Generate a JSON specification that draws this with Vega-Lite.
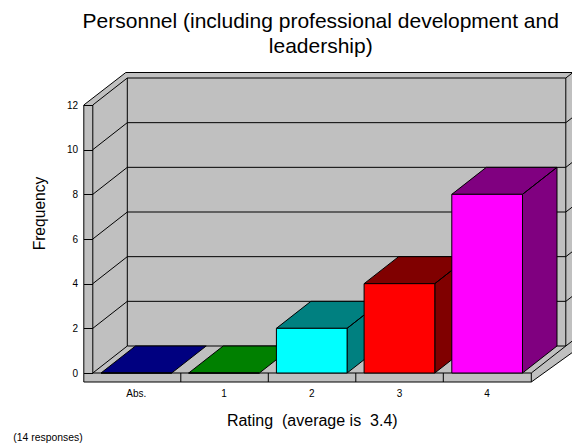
{
"$schema":"https://vega.github.io/schema/vega-lite/v6.json",
"width":438.5,"height":268,
"autosize":{"type":"none"},
"padding":{"left":92.5,"top":105,"right":41,"bottom":74},
"background":"white",
"config":{"view":{"stroke":null},"font":"Liberation Sans"},
"title":{"text":["Personnel (including professional development and","leadership)"],"font":"Liberation Sans","fontSize":21,"fontWeight":"normal","color":"black","anchor":"middle","dx":9,"offset":14,"lineHeight":24.5},
"datasets":{
"ratings":[
{"rating":"Abs.","frequency":0},
{"rating":"1","frequency":0},
{"rating":"2","frequency":2},
{"rating":"3","frequency":4},
{"rating":"4","frequency":8}],
"ticks":[{"tick":0},{"tick":2},{"tick":4},{"tick":6},{"tick":8},{"tick":10},{"tick":12}]
},
"layer":[
{"data":{"values":[{"rating":"Abs.","frequency":0}]},
 "mark":{"type":"point","filled":true,"size":4,"opacity":1,"fill":"#c0c0c0","stroke":"black","strokeWidth":1,
 "shape":"M-17.2 9 V-268 L24.8 -300.5 H472 V-21 L430.3 9 Z"},
 "encoding":{"x":{"field":"rating","type":"nominal","bandPosition":0,"sort":null,"scale":{"domain":["Abs.","1","2","3","4"],"paddingInner":0.194,"paddingOuter":0.097},
   "axis":{"title":"Rating \u00a0(average is \u00a03.4)","titleFont":"Liberation Sans","titleFontSize":16,"titleFontWeight":"normal","titleColor":"black","titlePadding":14,"labelFontSize":10,"labelColor":"black","labelAngle":0,"labelPadding":15,"ticks":false,"domain":false,"zindex":1}},
  "y":{"field":"frequency","type":"quantitative","scale":{"domain":[0,12],"nice":false},
   "axis":{"title":"Frequency","titleFont":"Liberation Sans","titleFontSize":15.6,"titleFontWeight":"normal","titleColor":"black","titlePadding":19,"titleY":108,"values":[0,2,4,6,8,10,12],"labelFontSize":10,"labelColor":"black","labelPadding":6,"tickSize":9,"tickColor":"black","domain":false,"grid":false,"zindex":1}}}},
{"data":{"values":[{"rating":"Abs.","frequency":0}]},
 "mark":{"type":"point","filled":false,"size":4,"opacity":1,"stroke":"black","strokeWidth":1,
 "shape":"M-8.2 0 V-268 M26.3 -27 V-295 M464.8 -27 V-295 M430.3 0 V9 M79.8 0 V9 M167.3 0 V9 M254.8 0 V9 M342.3 0 V9"},
 "encoding":{"x":{"field":"rating","type":"nominal","bandPosition":0,"sort":null},"y":{"field":"frequency","type":"quantitative"}}},
{"data":{"name":"ticks"},
 "mark":{"type":"point","filled":false,"size":4,"opacity":1,"stroke":"black","strokeWidth":1,
 "shape":"M-8.2 0 L26.3 -27 H464.8 L471.3 -32"},
 "encoding":{"x":{"datum":"Abs.","type":"nominal","bandPosition":0},"y":{"field":"tick","type":"quantitative"}}},
{"data":{"values":[{"rating":"Abs.","frequency":0}]},
 "mark":{"type":"point","filled":false,"size":4,"opacity":1,"stroke":"black","strokeWidth":1,
 "shape":"M-8.2 0 H430.3 L464.8 -27"},
 "encoding":{"x":{"field":"rating","type":"nominal","bandPosition":0,"sort":null},"y":{"field":"frequency","type":"quantitative"}}},
{"data":{"name":"ratings"},
 "mark":{"type":"point","filled":true,"size":4,"opacity":1,"stroke":"black","strokeWidth":1},
 "encoding":{"x":{"field":"rating","type":"nominal","sort":null},"y":{"field":"frequency","type":"quantitative"},
  "fill":{"field":"rating","type":"nominal","legend":null,"scale":{"domain":["Abs.","1","2","3","4"],"range":["#000080","#008000","#008080","#800000","#800080"]}},
  "shape":{"field":"rating","type":"nominal","legend":null,"scale":{"domain":["Abs.","1","2","3","4"],"range":[
  "M-35.35 0 L-0.85 -27 H69.85 L35.35 0 Z",
  "M-35.35 0 L-0.85 -27 H69.85 L35.35 0 Z",
  "M-35.35 0 L-0.85 -27 H69.85 V17.67 L35.35 44.67 V0 L69.85 -27 L35.35 0 H-35.35 Z",
  "M-35.35 0 L-0.85 -27 H69.85 V62.33 L35.35 89.33 V0 L69.85 -27 L35.35 0 H-35.35 Z",
  "M-35.35 0 L-0.85 -27 H69.85 V151.67 L35.35 178.67 V0 L69.85 -27 L35.35 0 H-35.35 Z"]}}}},
{"data":{"name":"ratings"},
 "mark":{"type":"bar","stroke":"black","strokeWidth":1},
 "encoding":{"x":{"field":"rating","type":"nominal","sort":null},"y":{"field":"frequency","type":"quantitative"},
  "fill":{"field":"rating","type":"nominal","legend":null,"scale":{"domain":["Abs.","1","2","3","4"],"range":["#0000ff","#00ff00","#00ffff","#ff0000","#ff00ff"]}}}},
{"data":{"values":[{"note":"(14 responses)"}]},
 "mark":{"type":"text","align":"left","baseline":"middle","font":"Liberation Sans","fontSize":10.4,"color":"black","dx":-87.7,"dy":64.5},
 "encoding":{"x":{"datum":"Abs.","type":"nominal","bandPosition":0},"y":{"datum":0,"type":"quantitative"},"text":{"field":"note"}}}
],
"resolve":{"scale":{"fill":"independent","shape":"independent"}}
}
